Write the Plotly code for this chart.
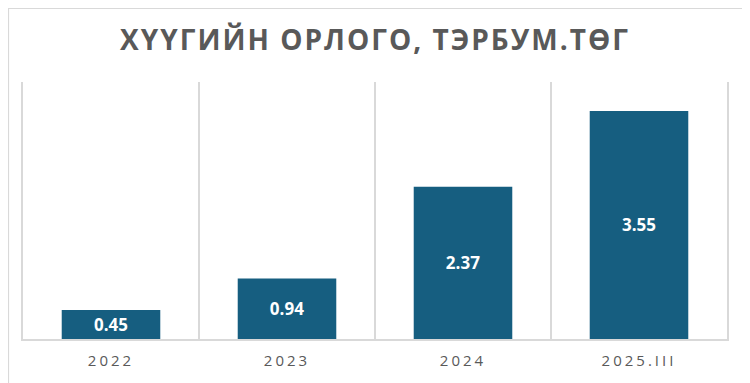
import plotly.graph_objects as go

categories = ["2022", "2023", "2024", "2025.III"]
values = [0.45, 0.94, 2.37, 3.55]
value_labels = ["0.45", "0.94", "2.37", "3.55"]
title_text = "ХҮҮГИЙН ОРЛОГО, ТЭРБУМ.ТӨГ"

# page body has an 8px margin, so the figure is 8px smaller than the window
W, H = 742, 375
ML, MR, MT, MB = 15, 23, 74, 44

def spaced(s, px):
    return '<span style="letter-spacing:%spx">%s</span>' % (px, s)

fig = go.Figure(go.Bar(
    x=categories,
    y=values,
    text=value_labels,
    textposition="inside",
    insidetextanchor="middle",
    textangle=0,
    textfont=dict(family="Open Sans", size=17, color="white", weight="bold"),
    marker=dict(color="#165E80", line=dict(width=0)),
    width=0.56,
    hoverinfo="skip",
))

pw = W - ML - MR
ph = H - MT - MB
fig.add_shape(type="rect", xref="paper", yref="paper",
              x0=-(ML - 0.5) / pw, x1=1 + (MR - 1) / pw,
              y0=-(MB + 5) / ph, y1=1 + (MT - 0.5) / ph,
              line=dict(color="#D9D9D9", width=1.2), fillcolor="rgba(0,0,0,0)", layer="below")

fig.update_layout(
    width=W, height=H,
    margin=dict(l=ML, r=MR, t=MT, b=MB),
    paper_bgcolor="white", plot_bgcolor="white",
    showlegend=False,
    title=dict(text=spaced(title_text, 2), x=0.5, xref="paper", xanchor="center",
               y=1 - 32.5 / H, yref="container", yanchor="middle",
               font=dict(family="Open Sans", size=28, color="#595959", weight="bold")),
    xaxis=dict(
        type="category",
        tickson="boundaries",
        showgrid=True, gridcolor="#D9D9D9", gridwidth=1.5,
        showline=True, linecolor="#D9D9D9", linewidth=1.5,
        ticks="", ticklen=0,
        ticklabelstandoff=7,
        tickvals=categories,
        ticktext=[spaced(c, 3) for c in categories],
        tickfont=dict(family="Open Sans", size=15, color="#595959"),
        range=[-0.5, 3.5],
        fixedrange=True,
    ),
    yaxis=dict(
        range=[0, 4.0],
        showgrid=False, zeroline=False, showticklabels=False,
        showline=True, mirror=True, linecolor="#D9D9D9", linewidth=1.5,
        fixedrange=True,
    ),
)

fig.write_html("out.html")
